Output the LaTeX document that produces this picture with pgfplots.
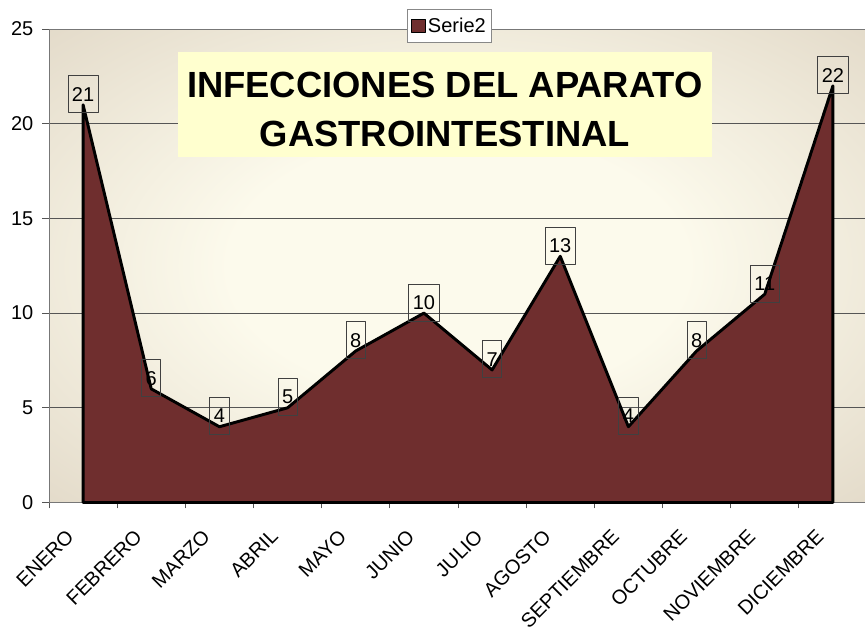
\documentclass[border=0pt]{standalone}
\usepackage{fontspec}
\setmainfont{Liberation Sans}
\usepackage{pgfplots}
\pgfplotsset{compat=1.18}
\definecolor{maroon}{HTML}{6F2E2E}
\definecolor{bgin}{HTML}{FCFAEC}
\definecolor{bgout}{HTML}{D3C6B3}
\definecolor{titlebg}{HTML}{FFFFCF}
\definecolor{gridc}{HTML}{555555}
\pgfdeclareradialshading{plotbg}{\pgfpoint{0bp}{0bp}}{color(0bp)=(bgin); color(14bp)=(bgin); color(50bp)=(bgout); color(72bp)=(bgout)}
\newcommand{\lbl}{\fontsize{15}{17}\selectfont}

\begin{document}
\begin{tikzpicture}
\useasboundingbox (-36.75pt,-93.375pt) rectangle (612pt,376.875pt);
\begin{axis}[
  scale only axis, width=613.5pt, height=355.1pt,
  at={(0,0)}, anchor=south west,
  xmin=0.5, xmax=12.5, ymin=0, ymax=25,
  xtick={1,...,12},
  xticklabels={ENERO,FEBRERO,MARZO,ABRIL,MAYO,JUNIO,JULIO,AGOSTO,SEPTIEMBRE,OCTUBRE,NOVIEMBRE,DICIEMBRE},
  minor xtick={0.5,1.5,...,12.5},
  ytick={0,5,...,25},
  major x tick style={draw=none},
  tick align=outside, xtick pos=bottom, ytick pos=left,
  major tick length=5.25pt, minor tick length=4.5pt,
  tick style={gridc, line width=0.75pt},
  axis line style={gridc!80, line width=0.75pt},
  ymajorgrids, grid style={gridc, line width=0.75pt},
  axis background/.style={shade, shading=plotbg},
  xticklabel style={rotate=45, anchor=north east, font=\lbl, xshift=-16pt, yshift=3.2pt},
  yticklabel style={font=\lbl, xshift=-3pt},
  /pgf/number format/assume math mode=true,
  legend style={at={(rel axis cs:0.49,1.0063)}, anchor=center, draw=gridc!70, fill=white,
    font=\lbl, inner xsep=2.5pt, inner ysep=4pt, line width=0.6pt},
  legend image code/.code={\draw[fill=maroon, draw=black, line width=0.6pt] (0pt,-5pt) rectangle (10pt,5pt);},
  clip=false,
]
\node[fill=titlebg, minimum width=400.5pt, minimum height=78.75pt] at (rel axis cs:0.484,0.8405) {};
\node[align=center, font=\fontsize{27.3}{36.75}\selectfont\bfseries] at (rel axis cs:0.484,0.8405) [yshift=-4pt]
  {INFECCIONES DEL APARATO\\GASTROINTESTINAL};
\addplot[fill=maroon, draw=black, line width=2.2pt, line join=round,
  nodes near coords,
  nodes near coords style={anchor=center, yshift=8pt, fill=none, draw=black!75,
    line width=0.6pt, text=black, font=\lbl, inner xsep=3pt, inner ysep=0pt,
    minimum height=27.75pt}]
  coordinates {(1,21) (2,6) (3,4) (4,5) (5,8) (6,10) (7,7) (8,13) (9,4) (10,8) (11,11) (12,22)} \closedcycle;
\addlegendentry{Serie2}
\end{axis}
\end{tikzpicture}
\end{document}
